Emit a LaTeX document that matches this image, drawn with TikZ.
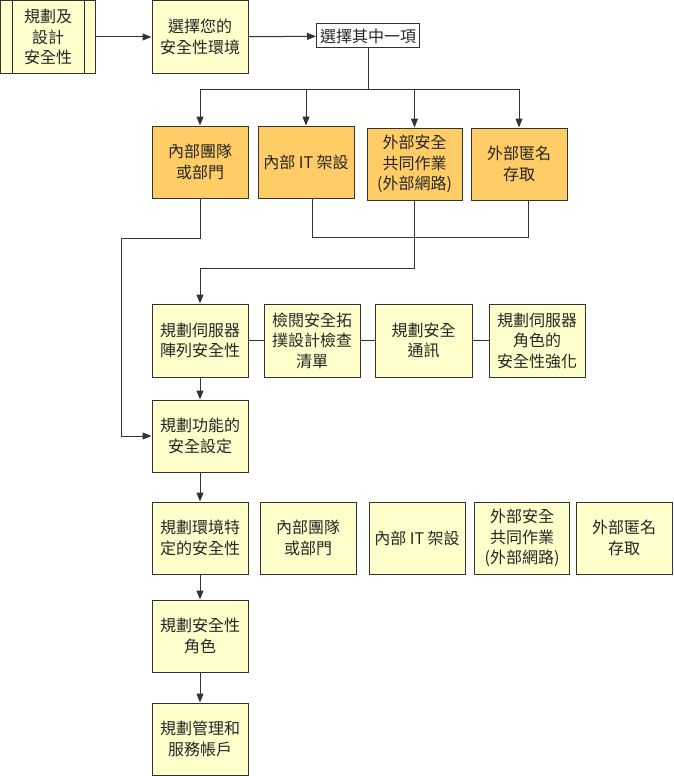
\documentclass[tikz,border=0pt]{standalone}
\usepackage{fontspec}
\setmainfont{Noto Sans CJK TC}
\usetikzlibrary{arrows.meta}
\definecolor{boxy}{HTML}{FFFFCC}
\definecolor{boxo}{HTML}{FFCC66}
\definecolor{edgec}{HTML}{333333}
\tikzset{
 base/.style={draw=edgec, line width=1pt, minimum width=96pt, minimum height=72pt, inner sep=0pt, align=center, font=\fontsize{16pt}{20.5pt}\selectfont, text=black!85},
 ybox/.style={base, fill=boxy},
 obox/.style={base, fill=boxo},
 wbox/.style={base, fill=white, minimum width=103pt, minimum height=24pt},
 arr/.style={draw=edgec, line width=1pt, -{Triangle[length=9pt,width=7pt]}},
 ln/.style={draw=edgec, line width=1pt},
}
\begin{document}
\begin{tikzpicture}[x=1pt,y=-1pt]
\useasboundingbox (0,0) rectangle (673,776);
% top row
\node[ybox, minimum width=95pt] (b1) at (48,37) {規劃及\\設計\\安全性};
\draw[ln] ([xshift=12pt]b1.north west) -- ([xshift=12pt]b1.south west);
\draw[ln] ([xshift=-12pt]b1.north east) -- ([xshift=-12pt]b1.south east);
\node[ybox] (b2) at (200,37) {選擇您的\\安全性環境};
\node[wbox] (ch) at (368,36) {選擇其中一項};
% orange row
\node[obox] (o1) at (200,162) {內部團隊\\或部門};
\node[obox] (o2) at (306,162) {內部 IT 架設};
\node[obox, minimum width=95pt] (o3) at (414.5,164) {外部安全\\共同作業\\(外部網路)};
\node[obox] (o4) at (519,164) {外部匿名\\存取};
% row 3
\node[ybox, minimum height=73pt] (A) at (200,340.5) {規劃伺服器\\陣列安全性};
\node[ybox, minimum height=73pt] (B) at (312,340.5) {檢閱安全拓\\撲設計檢查\\清單};
\node[ybox, minimum height=73pt, minimum width=97pt] (C) at (423.5,340.5) {規劃安全\\通訊};
\node[ybox, minimum height=73pt] (D) at (537,340.5) {規劃伺服器\\角色的\\安全性強化};
% column
\node[ybox] (E) at (200,436) {規劃功能的\\安全設定};
\node[ybox] (F) at (200,538) {規劃環境特\\定的安全性};
\node[ybox] (G) at (308,538) {內部團隊\\或部門};
\node[ybox] (H) at (417,538) {內部 IT 架設};
\node[ybox, minimum width=95pt] (I) at (522,538) {外部安全\\共同作業\\(外部網路)};
\node[ybox] (J) at (624,538) {外部匿名\\存取};
\node[ybox] (K) at (200,636) {規劃安全性\\角色};
\node[ybox] (L) at (200,739) {規劃管理和\\服務帳戶};
% connectors
\draw[arr] (b1) -- (b2);
\draw[arr] (b2) -- (ch);
\coordinate (j) at (368,89);
\draw[ln] (ch.south) -- (j);
\draw[arr] (j) -| (o1.north);
\draw[arr] (j) -| (o2.north);
\draw[arr] (j) -| (o3.north);
\draw[arr] (j) -| (o4.north);
\coordinate (lft) at (121,238);
\draw[arr] (o1.south) |- (lft) |- (E.west);
\draw[ln] ([xshift=6pt]o2.south) -- ++(0,39) -| ([xshift=9pt]o4.south);
\draw[arr] (o3.south) -- ++(0,68) -| (A.north);
\draw[ln] (A) -- (B) -- (C) -- (D);
\draw[arr] (A) -- (E);
\draw[arr] (E) -- (F);
\draw[arr] (F) -- (K);
\draw[arr] (K) -- (L);
\end{tikzpicture}
\end{document}
